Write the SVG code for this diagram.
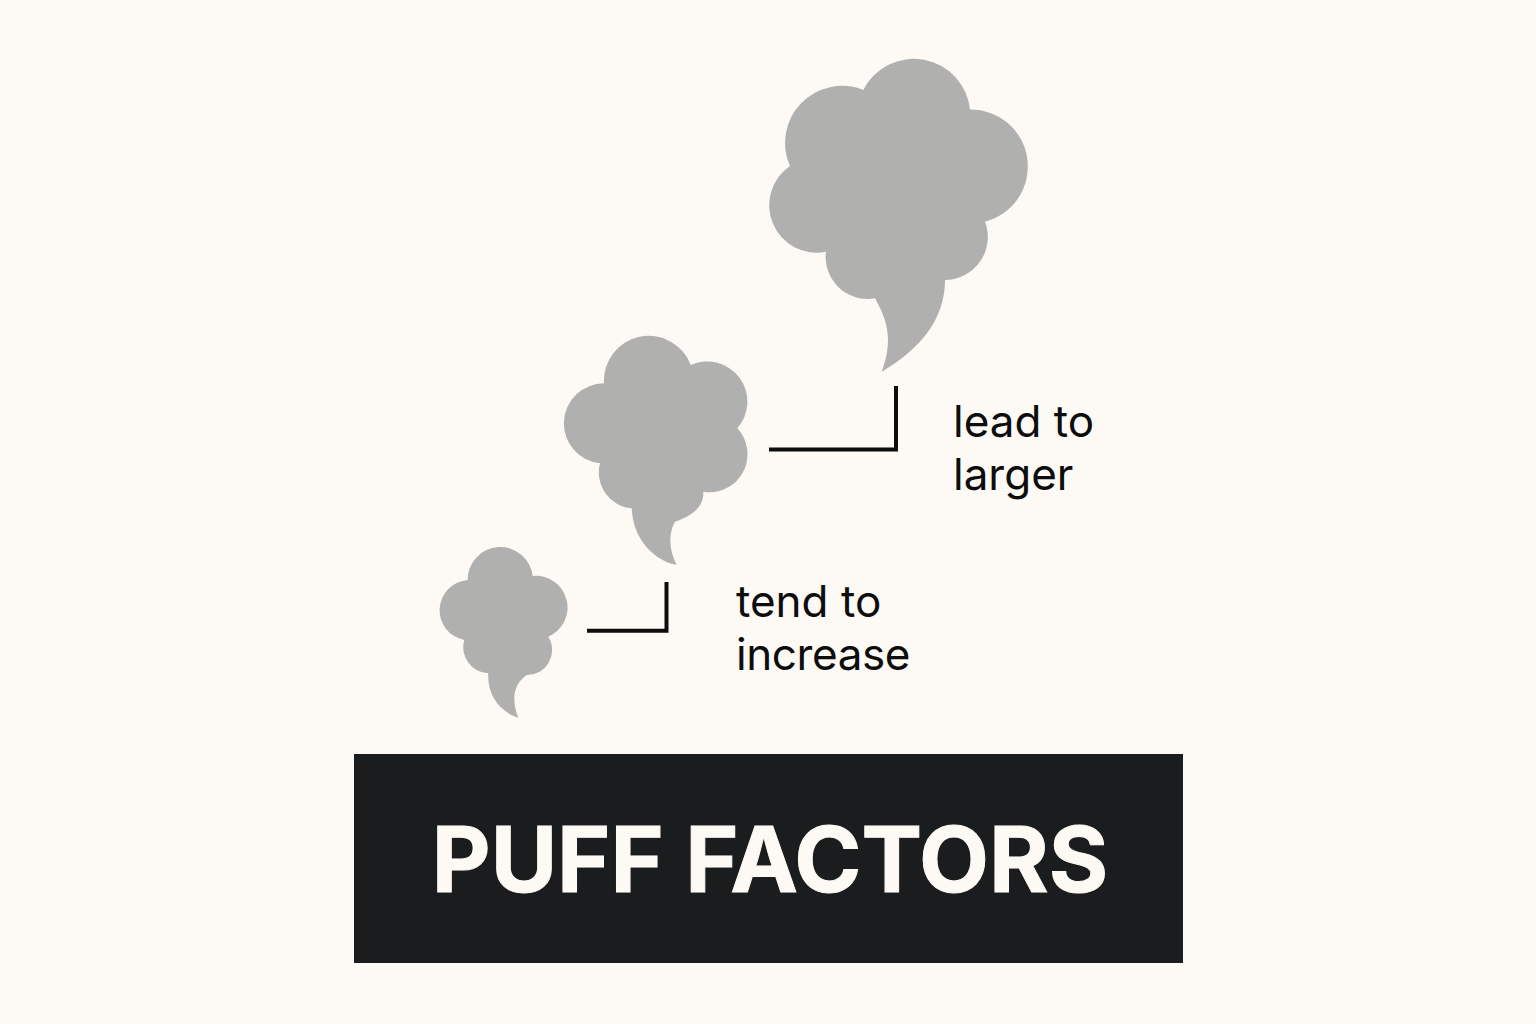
<svg xmlns="http://www.w3.org/2000/svg" width="1536" height="1024" viewBox="0 0 1536 1024">
<style>
.cloud{fill:#b0b0ae}
.conn{fill:none;stroke:#0d0d0e;stroke-width:4;stroke-linejoin:miter}
.lbl{font-family:Inter,"Liberation Sans",sans-serif;font-size:44px;fill:#0d0d0e}
.title{font-family:Inter,"Liberation Sans",sans-serif;font-size:90.8px;font-weight:700;fill:#fdf9f4;stroke:#fdf9f4;stroke-width:1}
</style>
<rect id="background" width="1536" height="1024" fill="#fdf9f4"/>
<g id="puff-large"><path class="cloud" d="M863.3 90A56.5 56.5 0 0 1 970 109.5A57 57 0 0 1 985 221.7A43 43 0 0 1 945 280C945 318 922 348 881.7 371.7C893 340 888 322 875 298.3A42 42 0 0 1 826 251.7A47.4 47.4 0 0 1 790 166A57 57 0 0 1 863.3 90Z"/></g>
<g id="puff-medium"><path class="cloud" d="M690.7 365A44.8 44.8 0 0 0 604 383.3A40.1 40.1 0 0 0 600 463.3A36 36 0 0 0 631.7 508.3C633 540 655 561 676.7 565C668 548 669 532 675 521.7C692 516 704 507 703.3 491.7A38 38 0 0 0 737.3 428.3A40.2 40.2 0 0 0 690.7 365Z"/></g>
<g id="puff-small"><path class="cloud" d="M532.7 576A32.6 32.6 0 0 0 467.7 580A30.3 30.3 0 0 0 464.3 640A26 26 0 0 0 488.3 673.3C487 695 500 712 518.3 717.7C512 702 512 685 526.7 675A25 25 0 0 0 548.3 636.7A31.7 31.7 0 0 0 532.7 576Z"/></g>
<g id="connectors">
<path class="conn" d="M769 449.5H896V386"/>
<path class="conn" d="M587 630.7H666.5V582"/>
</g>
<g id="label-lead"><text class="lbl" x="953" y="437">lead to</text><text class="lbl" x="953" y="490">larger</text></g>
<g id="label-tend"><text class="lbl" x="736" y="617">tend to</text><text class="lbl" x="736" y="670" letter-spacing="-0.4">increase</text></g>
<g id="title-box"><rect x="354" y="754" width="829" height="209" fill="#1b1c1e"/><text class="title" x="770" y="892" text-anchor="middle">PUFF FACTORS</text></g>
</svg>
